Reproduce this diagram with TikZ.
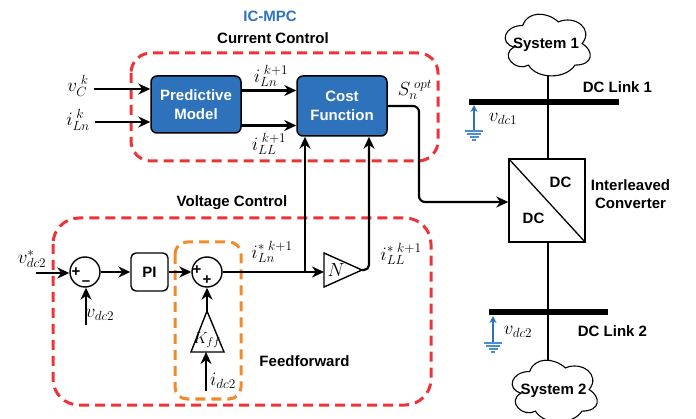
\RequirePackage{fix-cm}
\documentclass[tikz,border=0pt]{standalone}
\usepackage{fontspec}
\setmainfont{Liberation Sans}
\usetikzlibrary{arrows.meta}
\definecolor{ctlblue}{HTML}{2E72BC}
\definecolor{dashred}{HTML}{EE3338}
\definecolor{dashorange}{HTML}{F08A2C}
\definecolor{gndblue}{HTML}{4A90D0}
\newcommand{\lbl}{\fontsize{15}{17.5}\selectfont\bfseries}
\newcommand{\mth}{\fontsize{19}{22}\selectfont}
\tikzset{
  wire/.style={line width=2.2pt,black},
  arrowwire/.style={wire,-{Stealth[length=12pt,width=11pt]}},
  blockblue/.style={draw=black,line width=1.5pt,fill=ctlblue,rounded corners=6pt,text=white,align=center,inner sep=0pt,font=\lbl},
  whitebox/.style={draw=black,line width=1.4pt,fill=white,inner sep=0pt},
  sumnode/.style={circle,draw=black,line width=1.4pt,fill=white,minimum size=30pt,inner sep=0pt},
  redzone/.style={draw=dashred,line width=3pt,dash pattern=on 10pt off 6pt},
  orangezone/.style={draw=dashorange,line width=3pt,dash pattern=on 10pt off 6pt},
  txt/.style={inner sep=0pt,font=\lbl,align=center},
  mathlbl/.style={inner sep=0pt,font=\mth},
  bus/.style={fill=black,draw=none,inner sep=0pt},
  cloudline/.style={draw=black,line width=1.1pt,fill=white},
  gnd/.style={gndblue,line width=1.2pt},
}
\newcommand{\cloudpath}[4]{%
  \draw[cloudline,x=#3pt,y=-#4pt,shift={(#1pt,-#2pt)}]
    (.25,.25) .. controls (.05,.25) and (0,.5) .. (.16,.55)
    .. controls (0,.66) and (.18,.9) .. (.31,.8)
    .. controls (.4,1) and (.7,1) .. (.8,.8)
    .. controls (1,.8) and (1,.6) .. (.875,.5)
    .. controls (1,.3) and (.8,.1) .. (.625,.2)
    .. controls (.5,.05) and (.3,.05) .. (.25,.25) -- cycle;}
\begin{document}
\begin{tikzpicture}[x=1pt,y=-1pt]
\useasboundingbox (0,0) rectangle (696,419);
\clip (0,0) rectangle (696,419);
% dashed zones
\draw[redzone,rounded corners=20pt] (131,53) rectangle (438,161);
\draw[redzone,rounded corners=26pt] (53,218) rectangle (431,405);
\draw[orangezone,rounded corners=12pt] (175,242) rectangle (241,399);
% titles
\node[txt,text=ctlblue] (ttl) at (270,16) {IC-MPC};
\node[txt] (cur) at (273,38) {Current Control};
\node[txt] (vol) at (232,203) {Voltage Control};
\node[txt] (ff) at (304.5,361) {Feedforward};
% blocks
\node[blockblue,minimum width=90pt,minimum height=57pt] (pm) at (196,104.5) {Predictive\\[1pt]Model};
\node[blockblue,minimum width=90pt,minimum height=60pt] (cf) at (342,106) {Cost\\[1pt]Function};
\node[sumnode] (s1) at (85,272) {};
\node[sumnode] (s2) at (207,272) {};
\node[whitebox,rounded corners=5pt,minimum width=37pt,minimum height=38pt,font=\lbl] (pi) at (149.5,272) {PI};
\node[whitebox,minimum width=76pt,minimum height=83pt] (conv) at (547,200.5) {};
\draw[line width=1.3pt] (conv.north west) -- (conv.south east);
\node[txt] (dca) at (560.5,182) {DC};
\node[txt] (dcb) at (533.5,218) {DC};
\node[txt] (ic) at (630.5,194) {Interleaved\\[1pt]Converter};
% triangles
\coordinate (nA) at (324,253);
\coordinate (nB) at (324,287);
\coordinate (ntip) at (362,270);
\draw[line width=1.4pt,fill=white] (nA) -- (ntip) -- (nB) -- cycle;
\node[mathlbl] (nlab) at (336,270) {$N$};
\coordinate (kapex) at (207,311);
\coordinate (kl) at (191,352);
\coordinate (kr) at (224,352);
\draw[line width=1.4pt,fill=white] (kapex) -- (kr) -- (kl) -- cycle;
\node[mathlbl,font=\fontsize{16}{19}\selectfont] (klab) at (207,340) {$K_{ff}$};
% signs
\node[txt] (p1) at (76,272) {+};
\node[txt] (m1) at (86,283) {--};
\node[txt] (p2) at (197,270) {+};
\node[txt] (p3) at (207,280) {+};
% math labels
\node[mathlbl] (vc) at (78,86) {$v_{C}^{\;k}$};
\node[mathlbl] (il) at (78,120) {$i_{Ln}^{\;k}$};
\node[mathlbl] (iln) at (271,76) {$i_{Ln}^{\;k+1}$};
\node[mathlbl] (ill) at (269,144) {$i_{LL}^{\;k+1}$};
\node[mathlbl] (sn) at (415,90) {$S_{n}^{\;opt}$};
\node[mathlbl] (vref) at (32,259) {$v_{dc2}^{*}$};
\node[mathlbl] (vfb) at (100,315) {$v_{dc2}$};
\node[mathlbl] (idc) at (223,381) {$i_{dc2}$};
\node[mathlbl] (ilnr) at (272,252) {$i_{Ln}^{*\;k+1}$};
\node[mathlbl] (illr) at (401,254) {$i_{LL}^{*\;k+1}$};
\node[mathlbl] (vd1) at (503,119) {$v_{dc1}$};
\node[mathlbl] (vd2) at (518,332) {$v_{dc2}$};
% free ends
\coordinate (vcin) at (94,89);
\coordinate (ilin) at (95,122);
\coordinate (vin) at (36,273);
\coordinate (vfbin) at (86,325);
\coordinate (idcin) at (206,391);
\coordinate (ifb) at (305,272);
% connectors
\draw[arrowwire] (vcin) -- (pm.west |- vcin);
\draw[arrowwire] (ilin) -- (pm.west |- ilin);
\draw[arrowwire] (pm.east |- 0,90.5) -- (cf.west |- 0,90.5);
\draw[arrowwire] (pm.east |- 0,125.5) -- (cf.west |- 0,125.5);
\draw[arrowwire] (vin) -- (s1.west |- vin);
\draw[arrowwire] (vfbin) -- (s1.south -| vfbin);
\draw[arrowwire] (s1.east) -- (pi.west);
\draw[arrowwire] (pi.east) -- (s2.west);
\draw[arrowwire] (s2.east) -- (nA |- s2);
\draw[arrowwire] (kapex) -- (s2.south);
\draw[arrowwire] (idcin) -- (idcin |- kl);
\draw[arrowwire] (ifb |- s2) -- (ifb |- cf.south);
\draw[arrowwire,rounded corners=5pt] (ntip) -- (369,270) -- (369,0 |- cf.south);
\draw[arrowwire,rounded corners=6pt] (cf.east |- 0,106) -- (419,106) -- (419,202) -- (conv.west |- 0,202);
% right side
\node[bus,minimum width=150pt,minimum height=6.5pt] (b1) at (544,102) {};
\node[bus,minimum width=119pt,minimum height=6.5pt] (b2) at (548.5,312) {};
\coordinate (c1b) at (548,76);
\coordinate (c2t) at (548,360);
\draw[wire] (c1b) -- (548,0 |- conv.north);
\draw[wire] (548,0 |- conv.south) -- (c2t);
\cloudpath{499}{7.5}{95}{72}
\node[txt] (sys1) at (546,45) {System 1};
\cloudpath{506}{353.5}{95}{72}
\node[txt] (sys2) at (553.5,391) {System 2};
\node[txt] (l1) at (617.5,87) {DC Link 1};
\node[txt] (l2) at (612.5,331) {DC Link 2};
% measurement symbols
\coordinate (g1) at (474,131);
\coordinate (g2) at (493,342);
\draw[gnd,draw=ctlblue,-{Stealth[length=7pt,width=7pt]}] (g1) -- (474,105);
\draw[gnd,draw=ctlblue,-{Stealth[length=7pt,width=7pt]}] (g2) -- (493,316);
\foreach \gx/\gy in {474/131,493/343}{
  \draw[gnd] (\gx-9,\gy) -- (\gx+9,\gy);
  \draw[gnd] (\gx-7,\gy+3) -- (\gx+7,\gy+3);
  \draw[gnd] (\gx-4.5,\gy+6) -- (\gx+4.5,\gy+6);
  \draw[gnd] (\gx-2,\gy+9) -- (\gx+2,\gy+9);
}
\end{tikzpicture}
\end{document}
